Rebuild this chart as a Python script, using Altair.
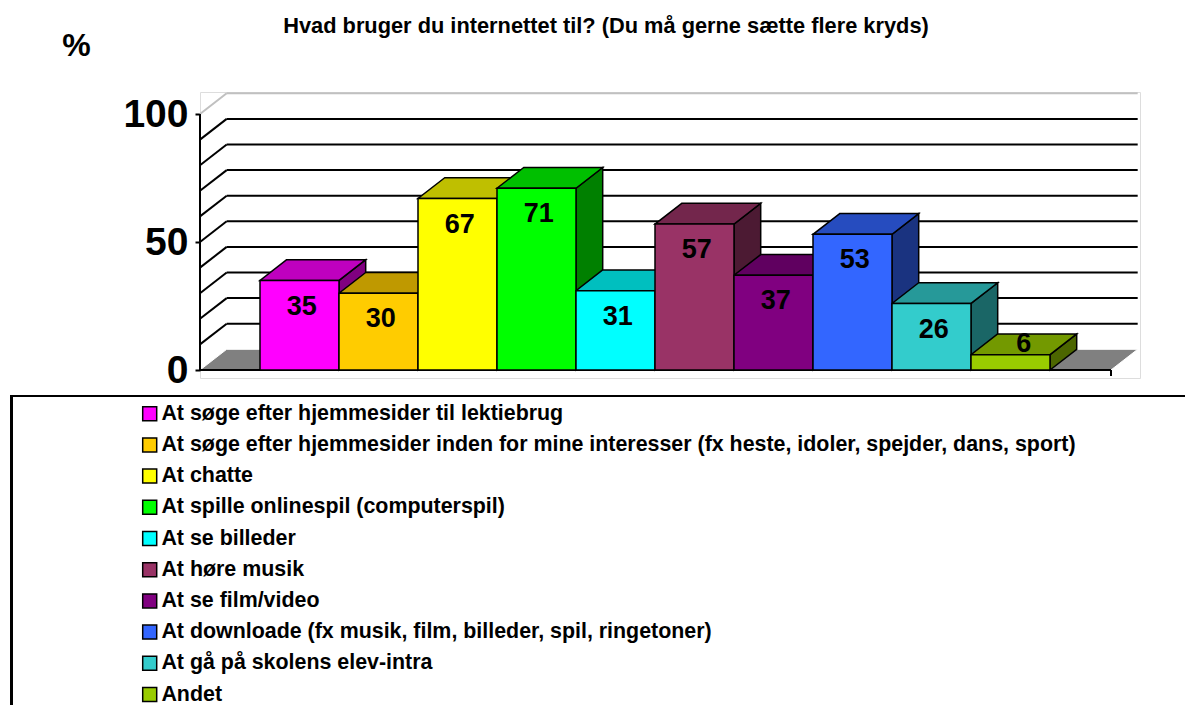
import altair as alt
import pandas as pd

# ---------------- data ----------------
title_text = "Hvad bruger du internettet til? (Du må gerne sætte flere kryds)"
unit_label = "%"
labels = [
    "At søge efter hjemmesider til lektiebrug",
    "At søge efter hjemmesider inden for mine interesser (fx heste, idoler, spejder, dans, sport)",
    "At chatte",
    "At spille onlinespil (computerspil)",
    "At se billeder",
    "At høre musik",
    "At se film/video",
    "At downloade (fx musik, film, billeder, spil, ringetoner)",
    "At gå på skolens elev-intra",
    "Andet",
]
values = [35, 30, 67, 71, 31, 57, 37, 53, 26, 6]
colors = ["#FF00FF", "#FFCC00", "#FFFF00", "#00FF00", "#00FFFF",
          "#993366", "#800080", "#3366FF", "#33CCCC", "#99CC00"]
y_ticks = [0, 50, 100]
grid_levels = [10, 20, 30, 40, 50, 60, 70, 80, 90, 100]

# ---------------- geometry / style constants ----------------
FONT = "Liberation Sans"
X0 = -0.7595          # front-left of floor (slot units)
X1 = 10.772           # front-right of floor
DX = 0.338            # 3D depth in x (slot units)
DY = 8.09             # 3D depth in y (value units)
XDOM = [X0, X0 + 940 / 79]
YDOM = [-3.125, 108.594]
W, H = 940, 286
PAD = {"left": 192, "top": 84, "right": 46, "bottom": 328}


def shade(hexcol, f):
    h = hexcol.lstrip("#")
    r, g, b = (int(h[k:k + 2], 16) for k in (0, 2, 4))
    return "#%02X%02X%02X" % (round(r * f), round(g * f), round(b * f))


n = len(values)
front = pd.DataFrame({
    "i": list(range(n)), "label": labels, "value": values,
})
front["x0"] = front["i"]
front["x1"] = front["i"] + 1

top_rows, side_rows = [], []
for i, (v, c) in enumerate(zip(values, colors)):
    tc, sc = shade(c, 0.75), shade(c, 0.5)
    top_rows.append({"i": i, "ty": v, "txa": i, "txb": i + 1, "col": tc})
    top_rows.append({"i": i, "ty": v + DY, "txa": i + DX, "txb": i + 1 + DX, "col": tc})
    side_rows.append({"i": i, "sx": i + 1, "sya": 0, "syb": v, "col": sc})
    side_rows.append({"i": i, "sx": i + 1 + DX, "sya": DY, "syb": v + DY, "col": sc})
tops = pd.DataFrame(top_rows)
sides = pd.DataFrame(side_rows)

floor = pd.DataFrame({"fy": [0, DY], "fxa": [X0, X0 + DX], "fxb": [X1, X1 + DX]})

gcol = ["#000000" if g < 100 else "#C0C0C0" for g in grid_levels]
side_grid = pd.DataFrame({"gx": [X0] * len(grid_levels), "gx2": [X0 + DX] * len(grid_levels),
                          "gy": grid_levels, "gy2": [g + DY for g in grid_levels], "gc": gcol})
back_grid = pd.DataFrame({"gx": [X0 + DX] * len(grid_levels), "gx2": [X1 + DX] * len(grid_levels),
                          "gy": [g + DY for g in grid_levels], "gy2": [g + DY for g in grid_levels],
                          "gc": gcol})
frame_lines = pd.DataFrame({
    "gx": [X0, X0, X1], "gx2": [X0, X1, X1],
    "gy": [0, 0, 0], "gy2": [100, 0, -2.34],
})

xs = alt.Scale(domain=XDOM, nice=False, zero=False)
ys = alt.Scale(domain=YDOM, nice=False, zero=False)
yaxis = alt.Axis(
    values=y_ticks, grid=False, domain=False, ticks=True, tickSize=5, tickWidth=2,
    tickColor="black", labelFont=FONT, labelFontSize=39, labelFontWeight="bold",
    labelColor="black", labelPadding=7,
    title=unit_label, titleAngle=0, titleFont=FONT, titleFontSize=32, titleFontWeight="bold",
    titleColor="black", titleAlign="center", titleBaseline="middle", titleX=-124, titleY=-47,
)


def X(f):
    return alt.X(f, scale=xs, axis=None)


def Y(f):
    return alt.Y(f, scale=ys, axis=yaxis, stack=None)


floor_layer = alt.Chart(floor).mark_area(
    orient="horizontal", color="#808080", stroke="white", strokeWidth=1
).encode(y=Y("fy:Q"), x=X("fxa:Q"), x2="fxb:Q")

side_grid_layer = alt.Chart(side_grid).mark_rule(strokeWidth=2).encode(
    x=X("gx:Q"), x2="gx2:Q", y=Y("gy:Q"), y2="gy2:Q", stroke=alt.Stroke("gc:N", scale=None))
back_grid_layer = alt.Chart(back_grid).mark_rule(strokeWidth=2).encode(
    x=X("gx:Q"), x2="gx2:Q", y=Y("gy:Q"), y2="gy2:Q", stroke=alt.Stroke("gc:N", scale=None))
frame_layer = alt.Chart(frame_lines).mark_rule(strokeWidth=2, color="black").encode(
    x=X("gx:Q"), x2="gx2:Q", y=Y("gy:Q"), y2="gy2:Q")

side_layer = alt.Chart(sides).mark_area(
    orient="vertical", stroke="black", strokeWidth=1.5, strokeJoin="miter"
).encode(x=X("sx:Q"), y=Y("sya:Q"), y2="syb:Q",
         fill=alt.Fill("col:N", scale=None), detail="i:N")

top_layer = alt.Chart(tops).mark_area(
    orient="horizontal", stroke="black", strokeWidth=1.5, strokeJoin="miter"
).encode(y=Y("ty:Q"), x=X("txa:Q"), x2="txb:Q",
         fill=alt.Fill("col:N", scale=None), detail="i:N")

front_layer = alt.Chart(front).mark_rect(
    stroke="black", strokeWidth=1.5
).encode(
    x=X("x0:Q"), x2="x1:Q", y=Y("zero:Q"), y2="value:Q",
    color=alt.Color("label:N", sort=labels,
                    scale=alt.Scale(domain=labels, range=colors),
                    legend=alt.Legend(
                        orient="none", legendX=-61, legendY=311, title=None,
                        symbolType="square", symbolSize=196, symbolStrokeColor="black",
                        symbolStrokeWidth=1.5, symbolOpacity=1,
                        labelFont=FONT, labelFontSize=21.4, labelFontWeight="bold",
                        labelColor="black", labelLimit=1500, labelOffset=1,
                        rowPadding=8.2, padding=0)),
).transform_calculate(zero="0")

text_layer = alt.Chart(front).mark_text(
    font=FONT, fontSize=27, fontWeight="bold", color="black", align="center", baseline="middle"
).transform_calculate(
    lx=f"datum.value < 15 ? datum.i + 0.5 + {DX / 2} : datum.i + 0.53",
    ly=f"datum.value < 15 ? datum.value + {DY / 2} : datum.value - 10.2",
).encode(x=X("lx:Q"), y=Y("ly:Q"), text="value:Q")

# legend frame: top and left edges, kept inside the canvas
right_edge = W + PAD["right"] - 1
bottom_edge = H + PAD["bottom"] - 1
box_top = alt.Chart(front).mark_rule(color="black", strokeWidth=2).encode(
    x=alt.value(-189.5), x2=alt.value(right_edge), y=alt.value(304))
box_left = alt.Chart(front).mark_rule(color="black", strokeWidth=2).encode(
    x=alt.value(-188.5), y=alt.value(303), y2=alt.value(bottom_edge))

chart = alt.layer(
    floor_layer, side_grid_layer, back_grid_layer, frame_layer,
    side_layer, top_layer, front_layer, text_layer, box_top, box_left,
).properties(
    width=W, height=H,
    title=alt.TitleParams(title_text, font=FONT, fontSize=21.8, fontWeight="bold",
                          color="black", anchor="middle", dx=-64, offset=-9),
    padding=PAD,
    autosize=alt.AutoSizeParams(type="none"),
).configure_view(strokeWidth=0).configure(background="white")

chart.save("out.html", embed_options={"renderer": "svg", "actions": False})
